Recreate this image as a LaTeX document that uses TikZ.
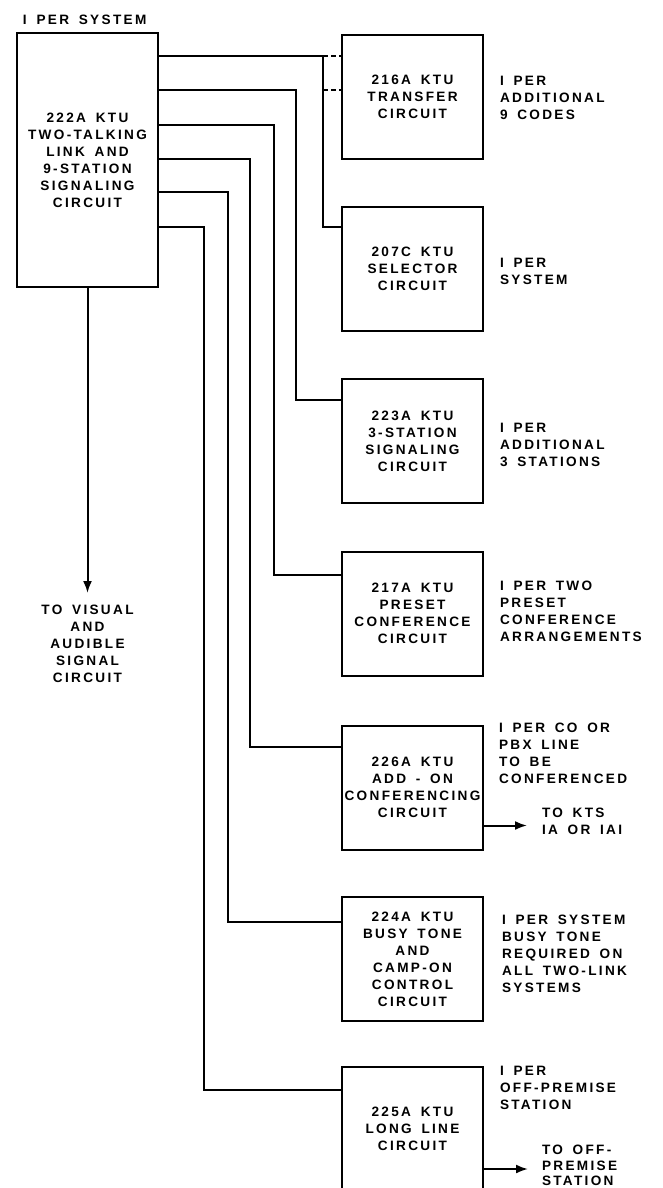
\documentclass[tikz,border=0pt]{standalone}
\usepackage{fontspec}
\setmainfont{Liberation Sans}[LetterSpace=17,WordSpace=1.6]
\usetikzlibrary{arrows.meta,calc}
\newcommand\lett{\fontsize{13.6}{17}\selectfont\bfseries}
\begin{document}
\begin{tikzpicture}[x=1pt,y=-1pt,line width=2pt,
  box/.style={draw,line width=2pt,minimum width=141pt,minimum height=124pt,align=center,inner sep=0pt,font=\lett},
  lab/.style={anchor=north west,align=left,inner sep=0pt,font=\lett},
  arr/.style={-{Latex[length=12pt,width=9pt]}},
  dsh/.style={dash pattern=on 5pt off 3pt}]
\useasboundingbox (0,0) rectangle (662,1188);
\clip (0,0) rectangle (662,1188);

% main box
\node[lab] (title) at (22,14) {I PER SYSTEM};
\node[box,minimum height=254pt] (main) at (87.5,160) {222A KTU\\TWO-TALKING\\LINK AND\\9-STATION\\SIGNALING\\CIRCUIT};
\node[anchor=north,align=center,inner sep=0pt,font=\lett] (vis) at (87.5,604) {TO VISUAL\\AND\\AUDIBLE\\SIGNAL\\CIRCUIT};

% circuit boxes
\node[box] (b216) at (412.5,97) {216A KTU\\TRANSFER\\CIRCUIT};
\node[box] (b207) at (412.5,269) {207C KTU\\SELECTOR\\CIRCUIT};
\node[box] (b223) at (412.5,441) {223A KTU\\3-STATION\\SIGNALING\\CIRCUIT};
\node[box] (b217) at (412.5,613.5) {217A KTU\\PRESET\\CONFERENCE\\CIRCUIT};
\node[box] (b226) at (412.5,787.5) {226A KTU\\ADD - ON\\CONFERENCING\\CIRCUIT};
\node[box] (b224) at (412.5,959) {224A KTU\\BUSY TONE\\AND\\CAMP-ON\\CONTROL\\CIRCUIT};
\node[box] (b225) at (412.5,1129) {225A KTU\\LONG LINE\\CIRCUIT};

% labels
\node[lab] (l216) at (499,75) {I PER\\ADDITIONAL\\9 CODES};
\node[lab] (l207) at (499,257) {I PER\\SYSTEM};
\node[lab] (l223) at (499,422) {I PER\\ADDITIONAL\\3 STATIONS};
\node[lab] (l217) at (499,580) {I PER TWO\\PRESET\\CONFERENCE\\ARRANGEMENTS};
\node[lab] (l226) at (498,722) {I PER CO OR\\PBX LINE\\TO BE\\CONFERENCED};
\node[lab] (l224) at (501,914) {I PER SYSTEM\\BUSY TONE\\REQUIRED ON\\ALL TWO-LINK\\SYSTEMS};
\node[lab] (l225) at (499,1065) {I PER\\OFF-PREMISE\\STATION};
\node[lab] (kts) at (541,807) {TO KTS\\IA OR IAI};
\node[lab,font=\fontsize{13.6}{15.5}\selectfont\bfseries] (off) at (541,1144) {TO OFF-\\PREMISE\\STATION};

% exits from main box
\coordinate (o1) at ($(main.north east)+(0,24)$);
\coordinate (o2) at ($(main.north east)+(0,58)$);
\coordinate (o3) at ($(main.north east)+(0,93)$);
\coordinate (o4) at ($(main.north east)+(0,127)$);
\coordinate (o5) at ($(main.north east)+(0,160)$);
\coordinate (o6) at ($(main.north east)+(0,195)$);
% entries
\coordinate (i216a) at ($(b216.north west)+(0,22)$);
\coordinate (i216b) at ($(b216.north west)+(0,56)$);
\coordinate (i207) at ($(b207.north west)+(0,21)$);
\coordinate (i223) at ($(b223.north west)+(0,22)$);
\coordinate (i217) at ($(b217.north west)+(0,24)$);
\coordinate (i226) at ($(b226.north west)+(0,22)$);
\coordinate (i224) at ($(b224.north west)+(0,26)$);
\coordinate (i225) at ($(b225.north west)+(0,24)$);
\coordinate (a226) at ($(b226.north east)+(0,101)$);
\coordinate (a225) at ($(b225.north east)+(0,103)$);

\draw (o1) -- ++(164,0) coordinate (j1) |- (i207);
\draw[dsh] (j1) -- (i216a);
\draw[dsh] (i216b -| j1) -- (i216b);
\draw (o2) -- ++(137,0) |- (i223);
\draw (o3) -- ++(115,0) |- (i217);
\draw (o4) -- ++(91,0) |- (i226);
\draw (o5) -- ++(69,0) |- (i224);
\draw (o6) -- ++(45,0) |- (i225);

\draw[arr] (main.south) -- ([yshift=11pt]vis.north);
\draw[arr] (a226) -- ($(a226 -| kts.west)+(-14,0)$);
\draw[arr] (a225) -- ($(a225 -| off.west)+(-13,0)$);
\end{tikzpicture}
\end{document}
